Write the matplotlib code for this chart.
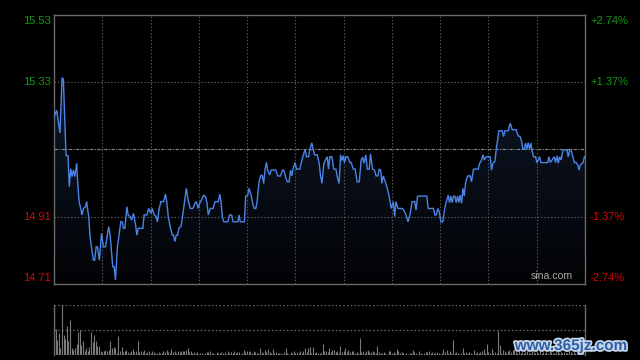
import matplotlib
matplotlib.use("Agg")
import matplotlib.pyplot as plt
import numpy as np
from matplotlib.patches import Polygon
from matplotlib.colors import LinearSegmentedColormap
import matplotlib.patheffects as pe

plt.rcParams['font.family'] = ['Liberation Sans', 'DejaVu Sans']

prev_close = 15.12

minutes = [
    0, 1.7, 3.7, 5.0, 5.8, 7.5, 8.7, 9.5, 10.4, 11.2, 12.0, 12.9, 14.1, 14.5, 15.6, 16.6, 17.4, 18.3,
    19.5, 20.3, 20.8, 21.6, 22.4, 23.3, 24.5, 25.3, 26.2, 27.0, 28.2, 29.5, 30.7, 32.0, 34.0, 34.9,
    36.5, 37.4, 38.2, 39.4, 40.3, 41.5, 42.4, 43.2, 44.0, 45.3, 46.1, 47.3, 48.2, 49.4, 50.7, 51.5,
    52.3, 55.2, 56.0, 57.7, 58.9, 60.2, 61.0, 62.3, 63.5, 64.3, 65.2, 66.4, 68.1, 69.3, 70.2, 71.0,
    72.2, 73.5, 74.3, 75.1, 76.0, 76.8, 77.6, 78.9, 79.7, 81.0, 82.2, 83.4, 84.7, 86.3, 87.6, 88.4,
    89.7, 90.5, 91.7, 93.0, 94.2, 95.1, 95.9, 97.1, 98.8, 100.1, 102.1, 103.0, 103.8, 104.6, 105.5,
    107.9, 109.2, 110.4, 111.3, 114.2, 115.0, 115.8, 118.3, 119.1, 120.4, 121.2, 122.5, 123.7, 124.5,
    125.4, 126.2, 127.4, 128.7, 129.5, 130.3, 131.2, 132.0, 132.8, 134.1, 134.9, 137.8, 139.1, 140.7,
    142.0, 142.8, 143.6, 144.9, 146.1, 147.0, 147.8, 148.6, 149.9, 150.7, 152.8, 153.6, 154.8, 156.1,
    156.9, 158.2, 159.0, 160.2, 161.1, 161.9, 163.6, 164.8, 165.6, 166.5, 167.7, 169.8, 170.6, 171.4,
    172.7, 173.9, 175.2, 176.0, 177.2, 178.1, 178.9, 179.7, 180.6, 181.4, 182.6, 183.9, 184.7, 186.0,
    187.2, 188.4, 189.7, 190.9, 191.8, 192.6, 193.8, 194.7, 195.9, 196.7, 198.0, 199.2, 200.1, 201.3,
    202.1, 203.0, 203.8, 204.6, 205.9, 207.1, 208.0, 208.8, 209.6, 210.9, 211.7, 212.5, 213.8, 216.3,
    217.1, 218.8, 220.0, 221.2, 222.5, 224.2, 225.0, 225.9, 231.7, 232.5, 235.8, 236.7, 237.5, 238.7,
    239.6, 240.4, 241.6, 242.5, 243.3, 244.1, 245.0, 245.8, 246.6, 247.5, 248.3, 249.1, 250.0, 250.8,
    251.6, 252.4, 253.3, 254.1, 254.9, 255.8, 257.0, 258.7, 259.5, 260.7, 263.6, 264.5, 265.3, 266.6,
    267.4, 268.6, 271.1, 271.9, 272.8, 274.0, 274.9, 275.7, 276.5, 278.6, 279.4, 280.3, 282.3, 283.5,
    284.8, 287.2, 288.5, 289.7, 290.6, 291.4, 292.2, 293.1, 293.9, 294.7, 295.6, 296.4, 297.2, 298.0,
    299.3, 300.1, 301.0, 301.8, 302.6, 306.8, 307.6, 308.4, 310.9, 311.7, 312.6, 313.4, 314.2, 315.1,
    316.3, 318.8, 319.6, 320.5, 321.3, 322.1, 323.4, 324.6, 325.5, 326.3, 327.1, 328.8, 329.6, 330.0,
]

prices = [
    15.22, 15.24, 15.17, 15.34, 15.336, 15.10, 15.10, 15.005, 15.06, 15.036, 15.056, 15.036, 15.077,
    15.036, 14.959, 14.938, 14.918, 14.938, 14.943, 14.959, 14.938, 14.913, 14.851, 14.82, 14.779,
    14.779, 14.82, 14.82, 14.779, 14.861, 14.82, 14.82, 14.882, 14.856, 14.759, 14.759, 14.718, 14.82,
    14.851, 14.897, 14.897, 14.877, 14.877, 14.943, 14.918, 14.913, 14.902, 14.923, 14.887, 14.856,
    14.877, 14.877, 14.918, 14.918, 14.938, 14.923, 14.938, 14.918, 14.913, 14.897, 14.933, 14.959,
    14.959, 14.982, 14.954, 14.913, 14.882, 14.856, 14.856, 14.836, 14.856, 14.856, 14.877, 14.882,
    14.908, 14.954, 15.0, 14.964, 14.938, 14.938, 14.954, 14.959, 14.938, 14.954, 14.964, 14.979,
    14.974, 14.954, 14.918, 14.938, 14.938, 14.959, 14.959, 14.982, 14.959, 14.913, 14.897, 14.897,
    14.918, 14.918, 14.897, 14.897, 14.918, 14.897, 14.897, 14.976, 14.979, 15.0, 14.979, 14.949,
    14.938, 14.938, 14.959, 15.02, 15.041, 15.038, 15.015, 15.059, 15.08, 15.056, 15.041, 15.056,
    15.056, 15.038, 15.038, 15.056, 15.056, 15.041, 15.02, 15.02, 15.056, 15.038, 15.062, 15.079,
    15.059, 15.059, 15.077, 15.1, 15.12, 15.097, 15.097, 15.118, 15.14, 15.12, 15.103, 15.103, 15.077,
    15.041, 15.015, 15.077, 15.097, 15.059, 15.097, 15.097, 15.059, 15.059, 15.036, 15.015, 15.103,
    15.085, 15.1, 15.079, 15.097, 15.097, 15.079, 15.079, 15.059, 15.059, 15.02, 15.02, 15.087, 15.096,
    15.077, 15.103, 15.059, 15.059, 15.106, 15.059, 15.056, 15.038, 15.038, 15.059, 15.056, 15.015,
    15.038, 15.02, 15.0, 14.982, 14.959, 14.938, 14.959, 14.913, 14.959, 14.938, 14.938, 14.935,
    14.918, 14.897, 14.918, 14.959, 14.959, 14.933, 14.976, 14.976, 14.938, 14.938, 14.918, 14.918,
    14.938, 14.923, 14.897, 14.897, 14.928, 14.949, 14.964, 14.979, 14.956, 14.976, 14.956, 14.976,
    14.976, 14.956, 14.976, 14.956, 14.979, 14.954, 15.0, 14.976, 15.017, 15.038, 15.038, 15.02,
    15.059, 15.059, 15.077, 15.082, 15.103, 15.087, 15.097, 15.097, 15.056, 15.077, 15.082, 15.123,
    15.149, 15.177, 15.177, 15.159, 15.177, 15.177, 15.2, 15.18, 15.18, 15.161, 15.159, 15.144, 15.12,
    15.12, 15.139, 15.12, 15.14, 15.12, 15.139, 15.113, 15.097, 15.097, 15.079, 15.087, 15.097,
    15.079, 15.079, 15.097, 15.079, 15.097, 15.079, 15.1, 15.077, 15.097, 15.087, 15.118, 15.118,
    15.097, 15.118, 15.118, 15.103, 15.079, 15.079, 15.072, 15.056, 15.072, 15.079, 15.097, 15.097,
]

volume = [
    98, 51, 30, 43, 13, 100, 40, 31, 58, 27,
    70, 13, 10, 13, 21, 45, 50, 20, 27, 7,
    13, 7, 15, 45, 25, 40, 27, 18, 18, 7,
    5, 7, 10, 7, 10, 27, 13, 15, 13, 4,
    37, 7, 15, 5, 8, 10, 5, 3, 7, 11,
    5, 7, 27, 5, 7, 5, 10, 3, 5, 8,
    3, 7, 5, 3, 4, 5, 3, 3, 7, 5,
    9, 5, 3, 11, 5, 7, 3, 8, 5, 7,
    8, 7, 10, 13, 5, 7, 3, 5, 3, 5,
    2, 4, 3, 2, 3, 5, 5, 7, 3, 3,
    2, 5, 3, 3, 5, 3, 5, 2, 7, 3,
    5, 3, 7, 4, 5, 5, 2, 3, 10, 5,
    7, 5, 7, 3, 7, 5, 3, 3, 13, 5,
    3, 10, 5, 11, 5, 3, 11, 3, 5, 3,
    3, 4, 2, 5, 13, 3, 2, 5, 3, 7,
    3, 5, 3, 7, 3, 7, 13, 5, 13, 15,
    3, 15, 3, 5, 3, 4, 4, 22, 7, 7,
    5, 13, 5, 10, 10, 5, 7, 3, 17, 5,
    7, 13, 5, 10, 5, 7, 7, 3, 5, 4,
    33, 5, 7, 3, 7, 9, 5, 5, 7, 5,
    3, 18, 5, 3, 3, 5, 3, 2, 7, 7,
    3, 5, 4, 11, 7, 3, 5, 3, 2, 3,
    2, 3, 3, 10, 5, 3, 2, 7, 3, 2,
    3, 5, 5, 7, 3, 5, 3, 4, 5, 3,
    2, 3, 11, 5, 10, 3, 7, 3, 29, 3,
    5, 3, 2, 3, 13, 3, 5, 3, 5, 4,
    2, 10, 3, 5, 3, 5, 7, 11, 3, 21,
    5, 3, 11, 3, 5, 3, 47, 20, 3, 10,
    7, 3, 7, 9, 5, 10, 11, 5, 3, 8,
    4, 6, 3, 5, 7, 3, 4, 9, 5, 3,
    6, 4, 8, 3, 5, 4, 6, 3, 7, 5,
    4, 3, 6, 8, 4, 5, 3, 6, 4, 3,
    7, 5, 4, 6, 3, 5, 8, 4, 5, 6,
    9,
]

left_labels = ['15.53', '15.33', '14.91', '14.71']
right_labels = ['+2.74%', '+1.37%', '-1.37%', '-2.74%']
label_pcts = [0.0274, 0.0137, -0.0137, -0.0274]

W, H = 640, 360
fig = plt.figure(figsize=(W / 100, H / 100), dpi=100, facecolor='black')

x0, x1 = 54, 585
ax = fig.add_axes([x0 / W, 1 - 284 / H, (x1 - x0) / W, (284 - 14.5) / H])
axv = fig.add_axes([x0 / W, 1 - 355 / H, (x1 - x0) / W, (355 - 304.5) / H])

ymax = prev_close * (1 + 0.0274)
ymin = prev_close * (1 - 0.0274)
n_min = 330

for a in (ax, axv):
    a.set_facecolor('black')
    a.set_xlim(0, n_min)
    a.set_xticks([])
    a.set_yticks([])

ax.set_ylim(ymin, ymax)
for s in ax.spines.values():
    s.set_color('#6a6a6a')
    s.set_linewidth(1.0)

grid_c = '#5e5e5e'
for t in range(30, n_min, 30):
    ax.axvline(t, color=grid_c, lw=0.8, ls=(0, (1.2, 1.8)), zorder=3)
for p in (0.0137, -0.0137):
    ax.axhline(prev_close * (1 + p), color=grid_c, lw=0.8, ls=(0, (1.2, 1.8)), zorder=3)
ax.axhline(prev_close, color='#8a8a8a', lw=0.8, ls=(0, (3, 1.2, 1, 1.2)), zorder=3)

# gradient fill under the price line
cmap = LinearSegmentedColormap.from_list('fill', ['#020305', '#121d33'])
grad = np.linspace(0, 1, 256).reshape(-1, 1)
img = ax.imshow(grad, extent=[0, n_min, ymin, ymax], origin='lower', cmap=cmap,
                aspect='auto', zorder=2, interpolation='bilinear')
poly_pts = list(zip(minutes, prices)) + [(minutes[-1], ymin), (minutes[0], ymin)]
poly = Polygon(poly_pts, closed=True, facecolor='none', edgecolor='none')
ax.add_patch(poly)
img.set_clip_path(poly)
ax.set_xlim(0, n_min)
ax.set_ylim(ymin, ymax)

ax.plot(minutes, prices, color='#4a84e6', lw=1.0, zorder=4, solid_joinstyle='miter')

ax.text(0.978, 0.012, 'sina.com', transform=ax.transAxes, ha='right', va='bottom',
        color='#a8a8a8', fontsize=7.6, zorder=5)

# price / percentage labels
for lab, rlab, p in zip(left_labels, right_labels, label_pcts):
    val = prev_close * (1 + p)
    col = '#139a13' if p > 0 else '#e00000'
    y = ax.transData.transform((0, val))[1] / H
    va = 'center'
    if p == 0.0274:
        va, y = 'top', y - 1.5 / H
    elif p == -0.0274:
        va, y = 'bottom', y + 1.0 / H
    fig.text(51 / W, y, lab, ha='right', va=va, color=col, fontsize=8)
    fig.text(590 / W, y, rlab, ha='left', va=va, color=col, fontsize=8)

# volume panel
axv.set_ylim(0, 100)
for k in ('top', 'bottom'):
    axv.spines[k].set_visible(False)
for k in ('left', 'right'):
    axv.spines[k].set_color('#6a6a6a')
    axv.spines[k].set_linewidth(1.0)
for yy in (0.5, 50, 99.5):
    axv.axhline(yy, color='#6a6a6a', lw=0.9, ls=(0, (1.2, 1.8)), zorder=1)
vx = np.arange(len(volume))
axv.vlines(vx, 0, volume, color='#7a7a7a', lw=0.8, zorder=2)

fig.text(571 / W, 1 - 346 / H, 'www.365jz.com', ha='center', va='center',
         color='#2c5fa6', fontsize=11, fontweight='bold',
         path_effects=[pe.withStroke(linewidth=2.5, foreground='#c9d6ea')])

fig.savefig('out.png', dpi=100, facecolor='black')
